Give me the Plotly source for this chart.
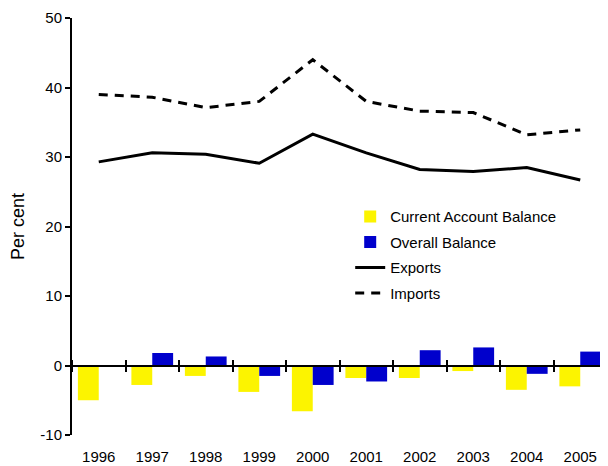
import plotly.graph_objects as go

years = ['1996', '1997', '1998', '1999', '2000', '2001', '2002', '2003', '2004', '2005']
current_account = [-5.0, -2.8, -1.5, -3.8, -6.6, -1.8, -1.8, -0.8, -3.5, -3.0]
overall_balance = [0.0, 1.8, 1.3, -1.5, -2.8, -2.3, 2.2, 2.6, -1.2, 2.0]
exports = [29.3, 30.6, 30.4, 29.1, 33.3, 30.6, 28.2, 27.9, 28.5, 26.7]
imports = [39.0, 38.6, 37.1, 38.0, 44.0, 38.0, 36.6, 36.4, 33.2, 33.9]
y_ticks = [-10, 0, 10, 20, 30, 40, 50]
y_tick_labels = ['-10', '0', '10', '20', '30', '40', '50']

font = dict(family='Liberation Sans, Arial', size=15, color='black')

fig = go.Figure()

# bars
fig.add_trace(go.Bar(x=years, y=current_account, name='Current Account Balance', legendgroup='a',
                     marker=dict(color='#FCF400', line=dict(width=0))))
fig.add_trace(go.Bar(x=years, y=overall_balance, name='Overall Balance', legendgroup='b',
                     marker=dict(color='#0000CC', line=dict(width=0))))

# lines
fig.add_trace(go.Scatter(x=years, y=exports, name='Exports', mode='lines', legendgroup='c',
                         line=dict(color='black', width=3)))
fig.add_trace(go.Scatter(x=years, y=imports, name='Imports', mode='lines', legendgroup='d',
                         line=dict(color='black', width=3, dash='9px,7px')))

# category axis drawn at zero, with ticks crossing the line
axis0 = dict(type='category', categoryarray=years, range=[-0.5, 9.5], overlaying='x',
             anchor='free', position=10 / 60, showline=True, linecolor='black', linewidth=2,
             tickson='boundaries', ticklen=5, tickwidth=2, tickcolor='black',
             showticklabels=False, showgrid=False, zeroline=False)

# the page body adds 8px on the top and left, so the figure is 8px smaller
fig.update_layout(
    width=600, height=458,
    margin=dict(l=64, r=1, t=10, b=28),
    paper_bgcolor='white', plot_bgcolor='white',
    font=font,
    barmode='group', bargap=0.22, bargroupgap=0,
    showlegend=True,
    legend=dict(x=0.52, y=0.563, xanchor='left', yanchor='top', bgcolor='rgba(0,0,0,0)',
                font=dict(size=15), traceorder='grouped', tracegroupgap=3, itemwidth=30),
    xaxis=dict(type='category', categoryarray=years, range=[-0.5, 9.5], showline=False,
               ticks='', showgrid=False, zeroline=False, ticklabelstandoff=11),
    xaxis2=dict(axis0, side='bottom', ticks='outside'),
    xaxis3=dict(axis0, side='top', ticks='outside'),
    yaxis=dict(range=[-10, 50], tickvals=y_ticks, ticktext=y_tick_labels, showline=True,
               linecolor='black', linewidth=2, ticks='outside', ticklen=5, tickwidth=2,
               tickcolor='black', showgrid=False, zeroline=False,
               title=dict(text='Per cent', standoff=14)),
)

# invisible helpers so the extra axes are drawn
fig.add_trace(go.Scatter(x=years, y=[None] * len(years), xaxis='x2', showlegend=False, hoverinfo='skip'))
fig.add_trace(go.Scatter(x=years, y=[None] * len(years), xaxis='x3', showlegend=False, hoverinfo='skip'))

fig.write_html("out.html")
